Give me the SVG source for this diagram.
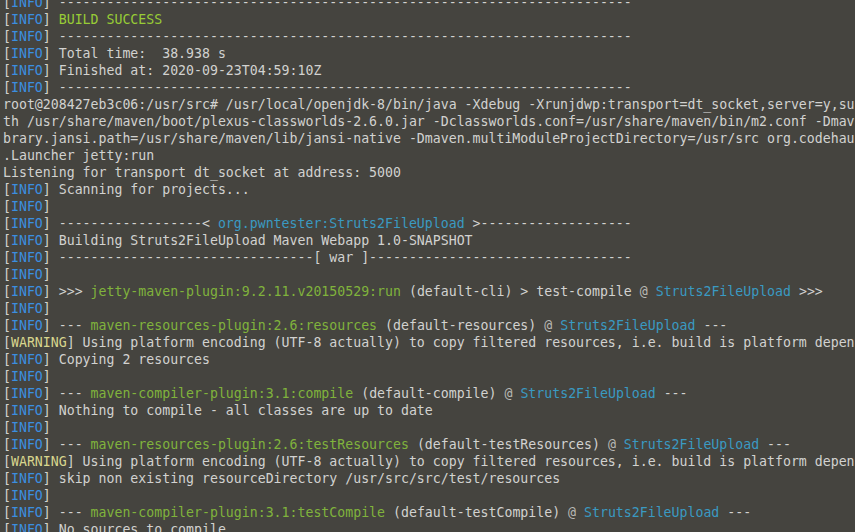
<svg xmlns="http://www.w3.org/2000/svg" width="855" height="532" viewBox="0 0 855 532" xml:space="preserve">
<style>
text{font-family:"DejaVu Sans Mono","Liberation Mono",monospace;font-size:13.22px;fill:#d2d2d0;white-space:pre}
.b{fill:#3b8fe0}
.s{fill:#98cc36}
.g{fill:#80b33c}
.c{fill:#3a9ac2}
.y{fill:#d8d68e}
.a{fill:#b8b8b4}
</style>
<rect width="855" height="532" fill="#45443f"/>
<g id="terminal" transform="translate(0,1.5)">
<text x="3" y="5">[<tspan class="b">INFO</tspan>] ------------------------------------------------------------------------</text>
<text x="3" y="22">[<tspan class="b">INFO</tspan>] <tspan class="s">BUILD SUCCESS</tspan></text>
<text x="3" y="39">[<tspan class="b">INFO</tspan>] ------------------------------------------------------------------------</text>
<text x="3" y="56">[<tspan class="b">INFO</tspan>] Total time:  38.938 s</text>
<text x="3" y="73">[<tspan class="b">INFO</tspan>] Finished at: 2020-09-23T04:59:10Z</text>
<text x="3" y="90">[<tspan class="b">INFO</tspan>] ------------------------------------------------------------------------</text>
<text x="3" y="107">root@208427eb3c06:/usr/src# /usr/local/openjdk-8/bin/java -Xdebug -Xrunjdwp:transport=dt_socket,server=y,su</text>
<text x="3" y="124">th /usr/share/maven/boot/plexus-classworlds-2.6.0.jar -Dclassworlds.conf=/usr/share/maven/bin/m2.conf -Dmav</text>
<text x="3" y="141">brary.jansi.path=/usr/share/maven/lib/jansi-native -Dmaven.multiModuleProjectDirectory=/usr/src org.codehau</text>
<text x="3" y="158">.Launcher jetty:run</text>
<text x="3" y="175">Listening for transport dt_socket at address: 5000</text>
<text x="3" y="192">[<tspan class="b">INFO</tspan>] Scanning for projects...</text>
<text x="3" y="209">[<tspan class="b">INFO</tspan>]</text>
<text x="3" y="226">[<tspan class="b">INFO</tspan>] ------------------&lt; <tspan class="c">org.pwntester:Struts2FileUpload</tspan> &gt;-------------------</text>
<text x="3" y="243">[<tspan class="b">INFO</tspan>] Building Struts2FileUpload Maven Webapp 1.0-SNAPSHOT</text>
<text x="3" y="260">[<tspan class="b">INFO</tspan>] --------------------------------[ war ]---------------------------------</text>
<text x="3" y="277">[<tspan class="b">INFO</tspan>]</text>
<text x="3" y="294">[<tspan class="b">INFO</tspan>] &gt;&gt;&gt; <tspan class="g">jetty-maven-plugin:9.2.11.v20150529:run</tspan> (default-cli) &gt; test-compile <tspan class="a">@</tspan> <tspan class="c">Struts2FileUpload</tspan> &gt;&gt;&gt;</text>
<text x="3" y="311">[<tspan class="b">INFO</tspan>]</text>
<text x="3" y="328">[<tspan class="b">INFO</tspan>] --- <tspan class="g">maven-resources-plugin:2.6:resources</tspan> (default-resources) <tspan class="a">@</tspan> <tspan class="c">Struts2FileUpload</tspan> ---</text>
<text x="3" y="345">[<tspan class="y">WARNING</tspan>] Using platform encoding (UTF-8 actually) to copy filtered resources, i.e. build is platform depen</text>
<text x="3" y="362">[<tspan class="b">INFO</tspan>] Copying 2 resources</text>
<text x="3" y="379">[<tspan class="b">INFO</tspan>]</text>
<text x="3" y="396">[<tspan class="b">INFO</tspan>] --- <tspan class="g">maven-compiler-plugin:3.1:compile</tspan> (default-compile) <tspan class="a">@</tspan> <tspan class="c">Struts2FileUpload</tspan> ---</text>
<text x="3" y="413">[<tspan class="b">INFO</tspan>] Nothing to compile - all classes are up to date</text>
<text x="3" y="430">[<tspan class="b">INFO</tspan>]</text>
<text x="3" y="447">[<tspan class="b">INFO</tspan>] --- <tspan class="g">maven-resources-plugin:2.6:testResources</tspan> (default-testResources) <tspan class="a">@</tspan> <tspan class="c">Struts2FileUpload</tspan> ---</text>
<text x="3" y="464">[<tspan class="y">WARNING</tspan>] Using platform encoding (UTF-8 actually) to copy filtered resources, i.e. build is platform depen</text>
<text x="3" y="481">[<tspan class="b">INFO</tspan>] skip non existing resourceDirectory /usr/src/src/test/resources</text>
<text x="3" y="498">[<tspan class="b">INFO</tspan>]</text>
<text x="3" y="515">[<tspan class="b">INFO</tspan>] --- <tspan class="g">maven-compiler-plugin:3.1:testCompile</tspan> (default-testCompile) <tspan class="a">@</tspan> <tspan class="c">Struts2FileUpload</tspan> ---</text>
<text x="3" y="532">[<tspan class="b">INFO</tspan>] No sources to compile</text>
</g>
</svg>
